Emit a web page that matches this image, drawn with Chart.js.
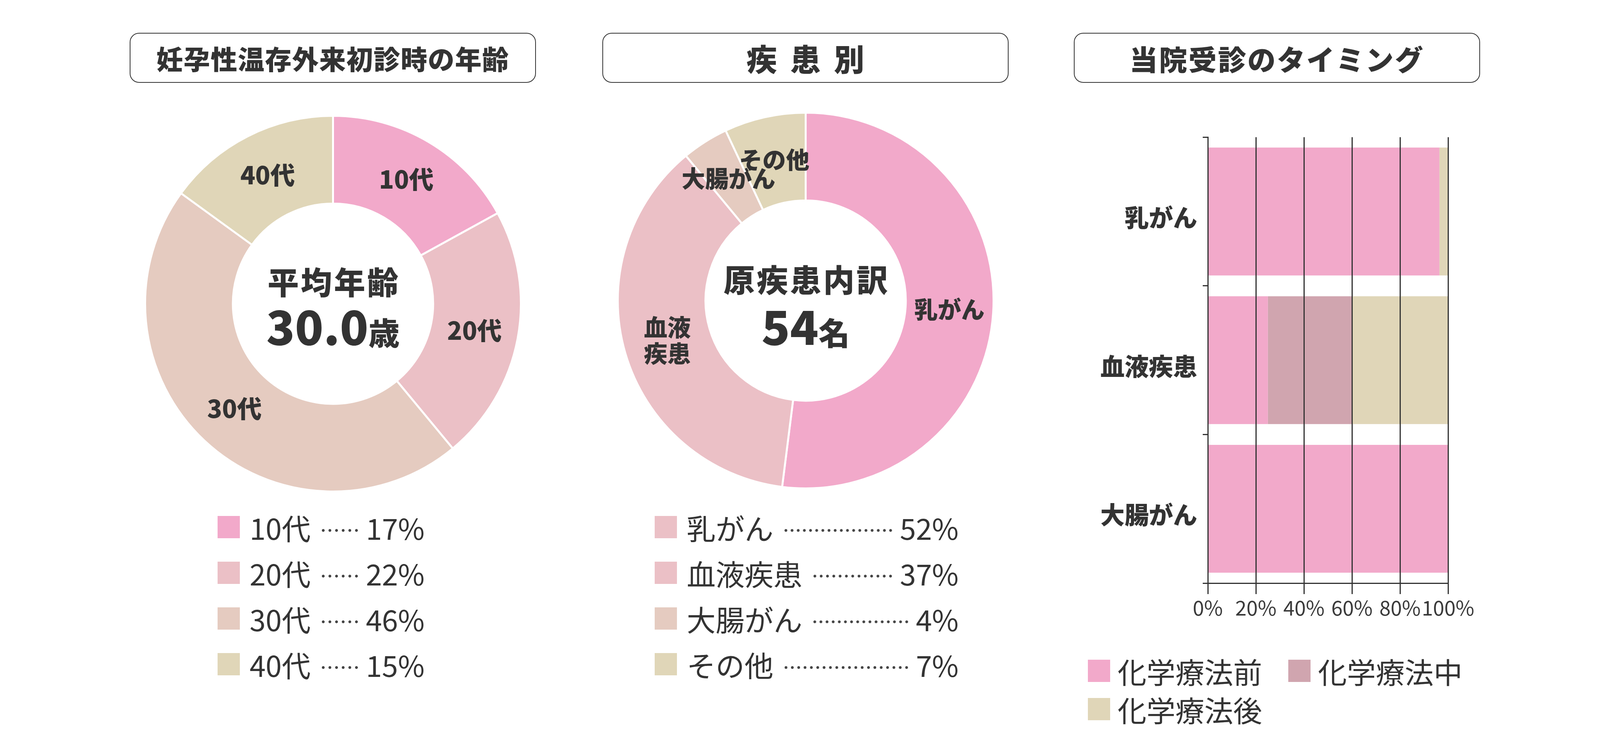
<!DOCTYPE html>
<html><head><meta charset="utf-8">
<script src="https://cdn.jsdelivr.net/npm/chart.js@4.4.1/dist/chart.umd.min.js"></script>
<style>
html,body{margin:0;padding:0;background:#fff;}
body{width:4130px;height:1933px;position:relative;overflow:hidden;font-family:"Noto Sans CJK JP","Noto Sans",sans-serif;color:#333;}
.title{position:absolute;height:128px;width:1040px;box-sizing:border-box;border:2.5px solid #333;border-radius:24px;display:flex;align-items:center;justify-content:center;font-weight:900;color:#333;white-space:pre;}
canvas{position:absolute;}
.legend{position:absolute;font-size:74px;line-height:1;}
.row{position:absolute;left:0;right:0;height:57px;display:flex;align-items:center;}
.sw{width:57px;height:57px;flex:none;}
.lab{margin-left:25px;flex:none;}
.dots{flex:1;height:10px;margin:0 16px 0 24px;transform:translateY(8px);
  background-image:radial-gradient(circle at center,#444 3.2px,rgba(255,255,255,0) 3.9px);
  background-size:16px 10px;background-repeat:round no-repeat;background-position:left center;}
.val{flex:none;}
.blegend{position:absolute;left:2785px;top:1689px;width:1100px;display:flex;flex-wrap:wrap;row-gap:41px;font-size:74px;line-height:57px;}
.bitem{display:flex;align-items:center;height:57px;margin-right:67px;}
.bitem .sw{margin-right:19px;}
</style>
</head><body>
<div class="title" style="left:332px;top:84px;font-size:68px;letter-spacing:1.5px;">妊孕性温存外来初診時の年齢</div>
<div class="title" style="left:1542px;top:84px;font-size:78px;letter-spacing:8px;padding-left:8px;">疾 患 別</div>
<div class="title" style="left:2749px;top:84px;font-size:72px;letter-spacing:3.5px;">当院受診のタイミング</div>

<canvas id="c1" width="967" height="967" style="left:369px;top:294px;width:967px;height:967px;"></canvas>
<canvas id="c2" width="967" height="967" style="left:1579px;top:286px;width:967px;height:967px;"></canvas>
<canvas id="c3" width="1037" height="1320" style="left:2750px;top:300px;width:1037px;height:1320px;"></canvas>

<div class="legend" id="leg1" style="left:557px;top:1321px;width:530px;height:440px;"></div>
<div class="legend" id="leg2" style="left:1676px;top:1321px;width:778px;height:440px;"></div>
<div class="blegend" id="leg3"></div>

<script>
// ---- data ----
const ageLabels = ['10代', '20代', '30代', '40代'];
const agePercents = [17, 22, 46, 15];
const ageColors = ['#F2A9CA', '#EBC0C6', '#E5CBC0', '#E0D6B8'];

const diseaseLabels = ['乳がん', '血液疾患', '大腸がん', 'その他'];
const diseasePercents = [52, 37, 4, 7];
const diseaseColors = ['#F2A9CA', '#EBC0C6', '#E5CBC0', '#E0D6B8'];
const diseaseLegendColors = ['#EBC0C6', '#EBC0C6', '#E5CBC0', '#E0D6B8'];
const diseaseRingLabels = ['乳がん', ['血液', '疾患'], '大腸がん', 'その他'];

const timingCategories = ['乳がん', '血液疾患', '大腸がん'];
const timingSeriesNames = ['化学療法前', '化学療法中', '化学療法後'];
const beforeChemo = [96.4, 25, 100];
const duringChemo = [0, 35, 0];
const afterChemo = [3.6, 40, 0];
const timingColors = ['#F2A9CA', '#D0A5AF', '#E0D6B8'];
const xTickLabels = ['0%', '20%', '40%', '60%', '80%', '100%'];

const FAM = '"Noto Sans CJK JP", "Noto Sans", sans-serif';
const INK = '#333';

// ---- plugins ----
function ringLabelPlugin(labels, size) {
  return {
    id: 'ringLabels',
    afterDatasetsDraw(chart) {
      const ctx = chart.ctx;
      const meta = chart.getDatasetMeta(0);
      ctx.save();
      ctx.fillStyle = INK;
      ctx.font = '900 ' + size + 'px ' + FAM;
      ctx.textAlign = 'center';
      ctx.textBaseline = 'alphabetic';
      meta.data.forEach((arc, i) => {
        const p = arc.tooltipPosition(true);
        const lines = [].concat(labels[i]);
        const lh = size * 1.13;
        lines.forEach((t, j) => {
          const y = p.y + (j - (lines.length - 1) / 2) * lh + 0.37 * size;
          ctx.fillText(t, p.x, y);
        });
      });
      ctx.restore();
    }
  };
}

function drawSpaced(ctx, text, cx, baseline, spacing) {
  const chars = Array.from(text);
  const widths = chars.map(c => ctx.measureText(c).width);
  const total = widths.reduce((a, b) => a + b, 0) + spacing * (chars.length - 1);
  let x = cx - total / 2;
  ctx.textAlign = 'left';
  chars.forEach((c, i) => { ctx.fillText(c, x, baseline); x += widths[i] + spacing; });
}

function centerTextPlugin(cfg) {
  return {
    id: 'centerText',
    afterDraw(chart) {
      const ctx = chart.ctx;
      const a = chart.chartArea;
      const cx = (a.left + a.right) / 2, cy = (a.top + a.bottom) / 2;
      ctx.save();
      ctx.fillStyle = INK;
      ctx.textBaseline = 'alphabetic';
      ctx.font = '900 80px ' + FAM;
      drawSpaced(ctx, cfg.line1, cx, cy + cfg.dy1 + 0.38 * 80, 5);
      ctx.font = '900 120px ' + FAM;
      const w1 = ctx.measureText(cfg.num).width;
      ctx.font = '900 80px ' + FAM;
      const w2 = ctx.measureText(cfg.unit).width;
      const x0 = cx - (w1 + w2) / 2;
      const base = cy + cfg.dy2;
      ctx.textAlign = 'left';
      ctx.font = '900 120px ' + FAM;
      ctx.fillText(cfg.num, x0, base);
      ctx.font = '900 80px ' + FAM;
      ctx.fillText(cfg.unit, x0 + w1, base);
      ctx.restore();
    }
  };
}

const donutOptions = {
  responsive: false,
  animation: false,
  cutout: '53.3%',
  layout: { padding: 0 },
  plugins: { legend: { display: false }, tooltip: { enabled: false } }
};

new Chart(document.getElementById('c1'), {
  type: 'doughnut',
  data: {
    labels: ageLabels,
    datasets: [{ data: agePercents, backgroundColor: ageColors, borderColor: '#fff', borderWidth: 5, hoverOffset: 0 }]
  },
  options: donutOptions,
  plugins: [ringLabelPlugin(ageLabels, 63), centerTextPlugin({ line1: '平均年齢', num: '30.0', unit: '歳', dy1: -54.5, dy2: 105.5 })]
});

new Chart(document.getElementById('c2'), {
  type: 'doughnut',
  data: {
    labels: diseaseLabels,
    datasets: [{ data: diseasePercents, backgroundColor: diseaseColors, borderColor: '#fff', borderWidth: 5, hoverOffset: 0 }]
  },
  options: donutOptions,
  plugins: [ringLabelPlugin(diseaseRingLabels, 60), centerTextPlugin({ line1: '原疾患内訳', num: '54', unit: '名', dy1: -52.5, dy2: 113.5 })]
});

const timingData = [beforeChemo, duringChemo, afterChemo];
new Chart(document.getElementById('c3'), {
  type: 'bar',
  data: {
    labels: timingCategories,
    datasets: timingSeriesNames.map((name, i) => ({
      label: name,
      data: timingData[i],
      backgroundColor: timingColors[i],
      borderWidth: 0,
      barPercentage: 0.86,
      categoryPercentage: 1
    }))
  },
  options: {
    indexAxis: 'y',
    responsive: false,
    animation: false,
    layout: { padding: { left: 0, top: 31, right: 80, bottom: 0 } },
    plugins: { legend: { display: false }, tooltip: { enabled: false } },
    scales: {
      x: {
        stacked: true, min: 0, max: 100,
        ticks: { stepSize: 20, callback: (v, i) => xTickLabels[i], font: { size: 52, family: FAM }, color: '#3a3a3a', padding: 4, maxRotation: 0, autoSkip: false },
        grid: { color: '#333', lineWidth: 3, tickLength: 28, drawTicks: true, z: 1 },
        border: { display: true, color: '#333', width: 3, z: 1 },
        afterFit(s) { s.height = 127; }
      },
      y: {
        stacked: true,
        ticks: { font: { size: 62, weight: '900', family: FAM }, color: INK, padding: 14, labelOffset: 16 },
        grid: { drawOnChartArea: false, color: '#333', lineWidth: 3, tickLength: 13, offset: true, z: 1 },
        border: { display: true, color: '#333', width: 3, z: 1 },
        afterFit(s) { s.width = 342; }
      }
    }
  }
});

// ---- HTML legends ----
function buildLegend(el, labels, values, colors) {
  labels.forEach((lab, i) => {
    const row = document.createElement('div');
    row.className = 'row';
    row.style.top = (i * 117) + 'px';
    row.innerHTML = '<div class="sw" style="background:' + colors[i] + '"></div>' +
      '<div class="lab">' + lab + '</div><div class="dots"></div><div class="val">' + values[i] + '%</div>';
    el.appendChild(row);
  });
}
buildLegend(document.getElementById('leg1'), ageLabels, agePercents, ageColors);
buildLegend(document.getElementById('leg2'), diseaseLabels, diseasePercents, diseaseLegendColors);

const bl = document.getElementById('leg3');
timingSeriesNames.forEach((name, i) => {
  const it = document.createElement('div');
  it.className = 'bitem';
  it.innerHTML = '<div class="sw" style="background:' + timingColors[i] + '"></div><div>' + name + '</div>';
  bl.appendChild(it);
});
</script>
</body></html>
